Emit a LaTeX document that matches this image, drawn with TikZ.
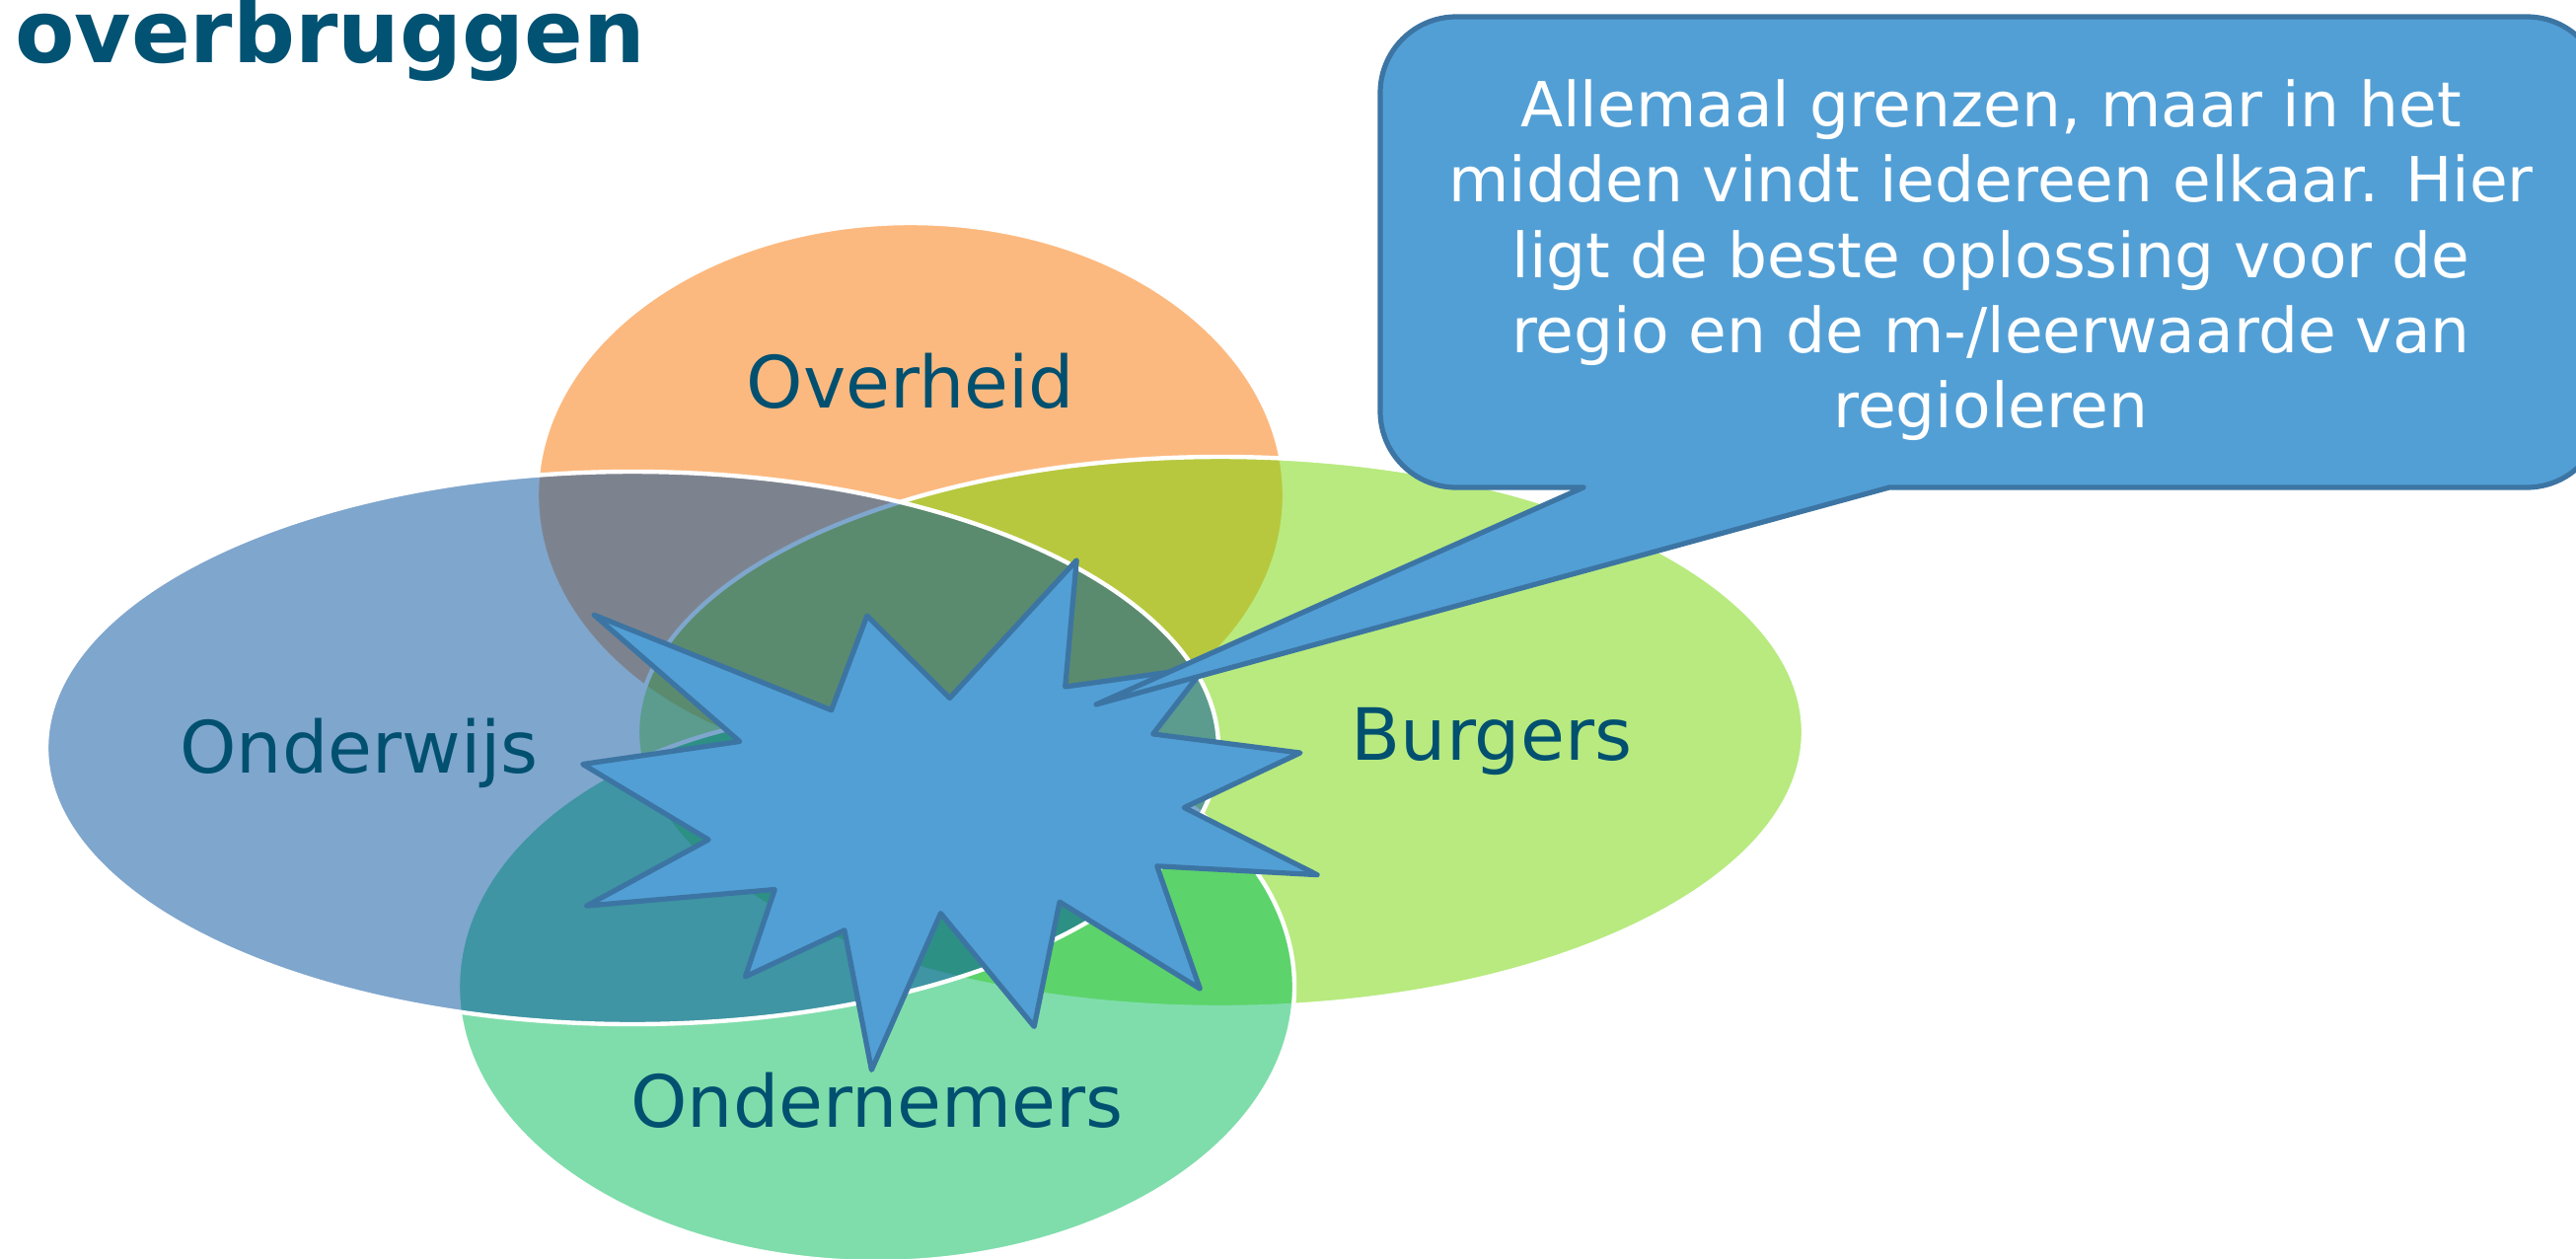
\documentclass[tikz,border=0pt]{standalone}
\usepackage{fontspec}
\setmainfont{DejaVu Sans}
\definecolor{ovhcol}{RGB}{251,117,1}
\definecolor{burcol}{RGB}{115,215,0}
\definecolor{ondcol}{RGB}{1,189,89}
\definecolor{owcol}{RGB}{0,79,157}
\definecolor{lblcol}{RGB}{2,80,112}
\definecolor{burstfill}{RGB}{82,159,214}
\definecolor{burstline}{RGB}{60,117,163}
\definecolor{titlecol}{RGB}{2,82,115}
\begin{document}
\begin{tikzpicture}[x=0.5pt,y=-0.5pt,
  venn/.style={draw=white, line width=2.2pt, fill opacity=0.5},
  lbl/.style={anchor=base, inner sep=0pt, text=lblcol, font=\fontsize{36.5}{44}\selectfont},
  burst/.style={fill=burstfill, draw=burstline, line width=2.6pt, line join=round},
]
\useasboundingbox (0,0) rectangle (2611,1275);
\clip (0,0) rectangle (2611,1275);
\fill[white] (0,0) rectangle (2611,1275);

% title
\node[anchor=base west, inner sep=0pt, text=titlecol, font=\bfseries\fontsize{44}{50}\selectfont] (title) at (15,63) {overbruggen};

% four overlapping ellipses
\path[venn, fill=ovhcol] (923,502) ellipse [x radius=379, y radius=276];
\path[venn, fill=burcol] (1237,742) ellipse [x radius=591, y radius=279];
\path[venn, fill=ondcol] (888,1000) ellipse [x radius=424, y radius=279];
\path[venn, fill=owcol] (641,758) ellipse [x radius=594, y radius=280];

% labels
\node[lbl] (overheid) at (923,413) {Overheid};
\node[lbl] (onderwijs) at (364,783) {Onderwijs};
\node[lbl] (burgers) at (1512,770) {Burgers};
\node[lbl] (ondernemers) at (889,1142) {Ondernemers};

% star burst
\draw[burst] (1091.2,567.8) -- (1079.7,696.0) -- (1221.2,676.1) -- (1168.7,743.9)
  -- (1317.9,763.0) -- (1200.3,818.5) -- (1335.1,886.6) -- (1172.7,877.8)
  -- (1216.3,1002.1) -- (1074.0,914.1) -- (1048.2,1040.4) -- (953.4,925.6)
  -- (883.4,1084.4) -- (855.9,942.8) -- (755.4,989.9) -- (785.3,901.5)
  -- (594.7,918.0) -- (718.1,851.0) -- (590.7,774.5) -- (749.7,751.5)
  -- (602.2,623.3) -- (842.7,719.7) -- (878.8,624.1) -- (962.6,707.5) -- cycle;

% callout
\draw[burst] (1605,494) -- (1476,494) .. controls (1433.5,494) and (1399,459.5) .. (1399,417)
  -- (1399,94) .. controls (1399,51.5) and (1433.5,17) .. (1476,17)
  -- (2561,17) .. controls (2603.5,17) and (2638,51.5) .. (2638,94)
  -- (2638,417) .. controls (2638,459.5) and (2603.5,494) .. (2561,494)
  -- (1915,494) -- (1111,714) -- cycle;
\node[anchor=base, align=center, inner sep=0pt, text=white, font=\fontsize{31.5}{38.15}\selectfont] (calltext) at (2018,433.8)
  {Allemaal grenzen, maar in het\\midden vindt iedereen elkaar. Hier\\ligt de beste oplossing voor de\\regio en de m-/leerwaarde van\\regioleren};
\end{tikzpicture}
\end{document}
